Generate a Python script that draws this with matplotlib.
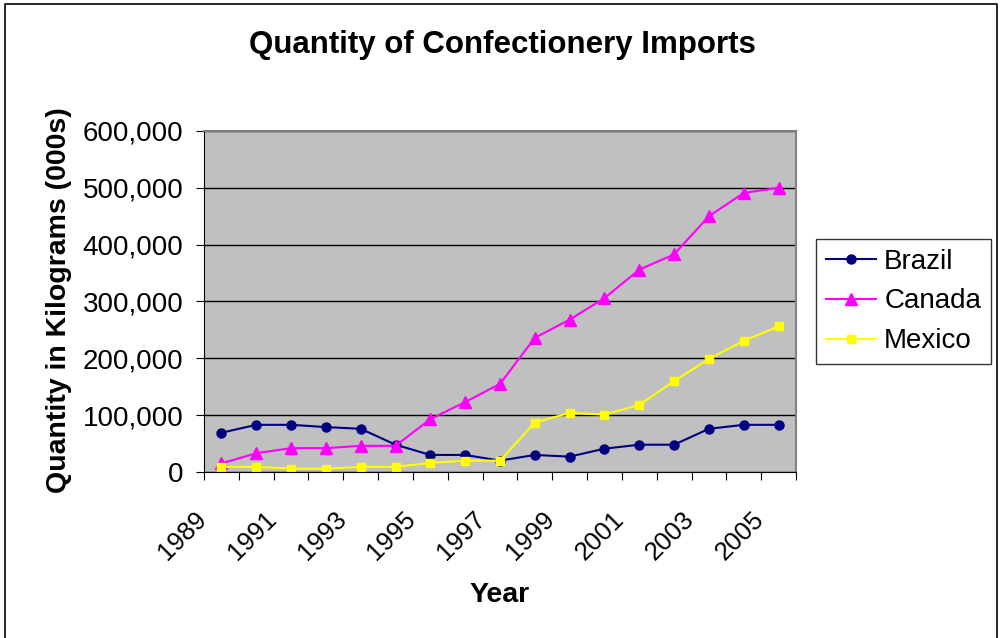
import matplotlib
matplotlib.use("Agg")
import matplotlib.pyplot as plt
import matplotlib.transforms as mtransforms
from matplotlib.lines import Line2D
from matplotlib.ticker import FuncFormatter

plt.rcParams['font.family'] = ['Liberation Sans', 'DejaVu Sans']

# data (thousands of kg)
years = list(range(1989, 2006))
brazil = [69000, 83000, 83000, 79000, 76000, 48000, 30000, 30000, 20000,
          30000, 27000, 41000, 48000, 48000, 76000, 83000, 83000]
canada = [15000, 33000, 42000, 42000, 46000, 46000, 93000, 123000, 155000,
          236000, 268000, 306000, 356000, 383000, 450000, 491000, 500000]
mexico = [9000, 9000, 6000, 6000, 9000, 9000, 16000, 20000, 20000,
          87000, 104000, 101000, 118000, 160000, 199000, 231000, 256000]

fig = plt.figure(figsize=(10, 6.38), dpi=100)
ax = fig.add_axes([0.204, 0.2602, 0.592, 0.5345])
ax.set_facecolor('#C0C0C0')

x = list(range(len(years)))
ax.plot(x, brazil, color='#000080', marker='o', markersize=6.5, lw=1.5, label='Brazil')
ax.plot(x, canada, color='#FF00FF', marker='^', markersize=8, lw=1.5, label='Canada')
ax.plot(x, mexico, color='#FFFF00', marker='s', markersize=6, lw=1.5, label='Mexico')

ax.set_xlim(-0.5, len(years) - 0.5)
ax.set_ylim(0, 600000)
ax.set_yticks(range(0, 600001, 100000))
ax.yaxis.set_major_formatter(FuncFormatter(lambda v, p: f"{int(v):,}"))
ax.yaxis.grid(True, color='black', lw=1)
ax.set_axisbelow(True)

# ticks on category boundaries, labels on every other category
ax.set_xticks([i - 0.5 for i in range(len(years) + 1)])
ax.set_xticklabels([])
ax.set_xticks(x[::2], minor=True)
ax.set_xticklabels([str(y) for y in years[::2]], minor=True, rotation=45,
                   ha='right', va='top', fontsize=18.5)
ax.tick_params(axis='x', which='minor', length=0, pad=25)
shift = mtransforms.ScaledTranslation(-10 / 100, 0, fig.dpi_scale_trans)
for lab in ax.get_xticklabels(minor=True):
    lab.set_transform(lab.get_transform() + shift)
ax.tick_params(axis='x', which='major', length=6, color='black')
ax.tick_params(axis='y', length=6, labelsize=20, pad=9)

for s in ['left', 'bottom']:
    ax.spines[s].set_color('black')
for s in ['top', 'right']:
    ax.spines[s].set_color('#808080')
    ax.spines[s].set_linewidth(1.5)

fig.text(0.502, 0.929, 'Quantity of Confectionery Imports', ha='center', va='center',
         fontsize=22.5, fontweight='bold')
fig.text(0.5, 0.068, 'Year', ha='center', va='center', fontsize=20.5, fontweight='bold')
fig.text(0.059, 0.53, 'Quantity in Kilograms (000s)', ha='center', va='center',
         rotation=90, fontsize=20.5, fontweight='bold')

leg = fig.legend(loc='center', bbox_to_anchor=(0.818, 0.425, 0.171, 0.205),
                 fontsize=20, frameon=True, fancybox=False, edgecolor='black',
                 handlelength=1.8, handletextpad=0.3, borderpad=0.35,
                 borderaxespad=0, labelspacing=0.5)
leg.get_frame().set_linewidth(1)

# outer chart border (left, top, right)
fig.add_artist(Line2D([0.005, 0.005, 0.997, 0.997], [0.0, 0.994, 0.994, 0.0],
                      transform=fig.transFigure, color='black', lw=1.2))

fig.savefig('out.png', dpi=100)
